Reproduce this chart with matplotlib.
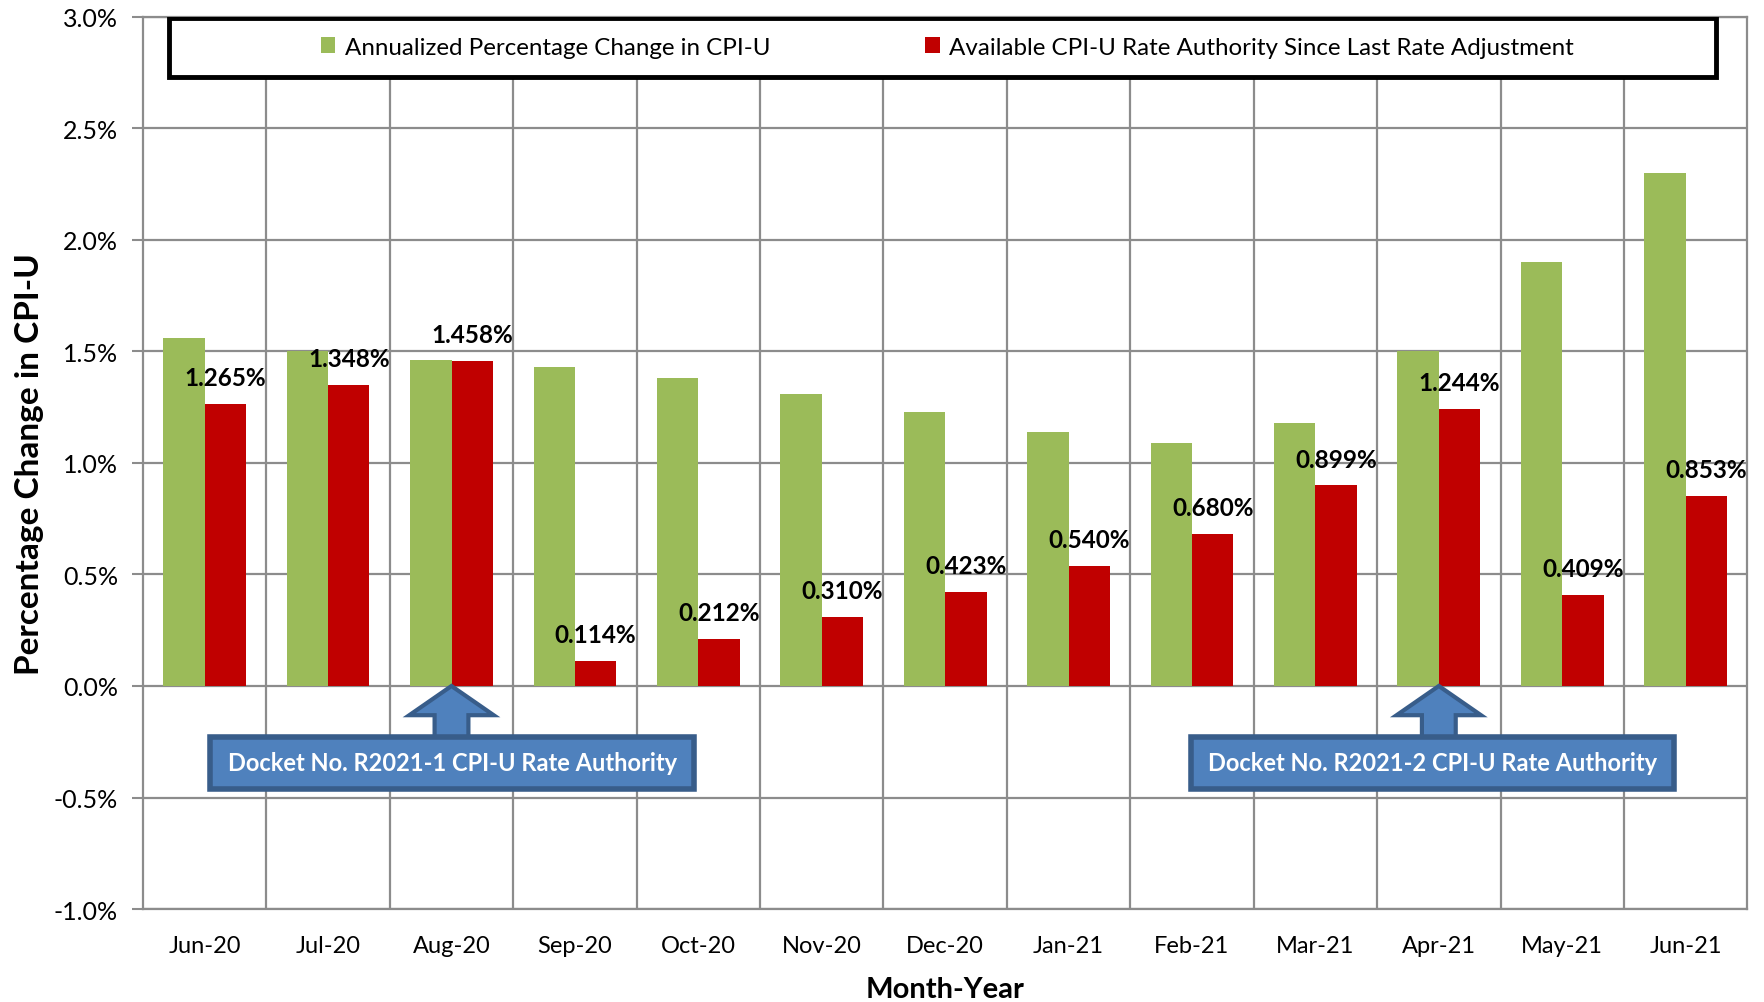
import numpy as np
import matplotlib
matplotlib.use("Agg")
import matplotlib.pyplot as plt
from matplotlib.patches import Rectangle, Polygon
from matplotlib.ticker import FuncFormatter

plt.rcParams['font.family'] = ['Lato', 'DejaVu Sans']

months = ["Jun-20", "Jul-20", "Aug-20", "Sep-20", "Oct-20", "Nov-20", "Dec-20",
          "Jan-21", "Feb-21", "Mar-21", "Apr-21", "May-21", "Jun-21"]
cpi_change = [1.56, 1.50, 1.46, 1.43, 1.38, 1.31, 1.23, 1.14, 1.09, 1.18, 1.50, 1.90, 2.30]
authority = [1.265, 1.348, 1.458, 0.114, 0.212, 0.310, 0.423, 0.540, 0.680, 0.899, 1.244, 0.409, 0.853]
dockets = ["Docket No. R2021-1 CPI-U Rate Authority", "Docket No. R2021-2 CPI-U Rate Authority"]
docket_month = ["Aug-20", "Apr-21"]

green = "#9BBB59"
red = "#C00000"
grid_c = "#8C8C8C"
box_fill = "#4F81BD"
box_edge = "#385D8A"

fig = plt.figure(figsize=(17.65, 10.03), dpi=100)
ax = fig.add_axes([0.081, 0.0927, 0.909, 0.8895])

x = np.arange(len(months))
w = 0.335
ax.bar(x - w / 2, cpi_change, w, color=green, zorder=3,
       label="Annualized Percentage Change in CPI-U")
ax.bar(x + w / 2, authority, w, color=red, zorder=3,
       label="Available CPI-U Rate Authority Since Last Rate Adjustment")

for xi, v in zip(x, authority):
    ax.annotate("%.3f%%" % v, (xi + w / 2, v), xytext=(0, 19), textcoords="offset points",
                ha="center", va="center", fontsize=17.5, fontweight="bold", zorder=5)

ax.set_xlim(-0.5, len(months) - 0.5)
ax.set_ylim(-1.0, 3.0)
ax.set_yticks(np.arange(-1.0, 3.01, 0.5))
ax.yaxis.set_major_formatter(FuncFormatter(lambda v, p: "%.1f%%" % v))
ax.set_xticks(x)
ax.set_xticklabels(months)
ax.tick_params(axis="x", length=0, pad=19, labelsize=17)
ax.tick_params(axis="y", length=8, width=1.5, color=grid_c, pad=10, labelsize=18)

ax.yaxis.grid(True, color=grid_c, lw=1.6, zorder=0)
for b in np.arange(0.5, len(months) - 1, 1.0):
    ax.axvline(b, color=grid_c, lw=1.6, zorder=0)
for s in ax.spines.values():
    s.set_color(grid_c)
    s.set_linewidth(1.6)

ax.set_ylabel("Percentage Change in CPI-U", fontsize=24, fontweight="bold", labelpad=7)
ax.set_xlabel("Month-Year", fontsize=21, fontweight="bold", labelpad=14)

# legend box
ax.add_patch(Rectangle((0.0162, 0.9325), 0.9643, 0.0665, transform=ax.transAxes,
                       facecolor="white", edgecolor="black", lw=3.5, zorder=6))
ax.legend(loc="center", bbox_to_anchor=(0.5015, 0.966), ncol=2, frameon=False,
          fontsize=17.4, handlelength=0.6, handleheight=0.6, handletextpad=0.4,
          columnspacing=6.4).set_zorder(7)

# docket call-outs
box_x = [0.047, 7.99]
box_w = 3.917
for name, m, bx in zip(dockets, docket_month, box_x):
    cx = months.index(m)
    head = [(cx, 0.0), (cx + 0.342, -0.131), (cx + 0.137, -0.131), (cx + 0.137, -0.23),
            (cx - 0.137, -0.23), (cx - 0.137, -0.131), (cx - 0.342, -0.131)]
    ax.add_patch(Polygon(head, closed=True, facecolor=box_fill, edgecolor=box_edge,
                         lw=3, zorder=6))
    ax.add_patch(Rectangle((bx, -0.46), box_w, 0.233, facecolor=box_fill,
                           edgecolor=box_edge, lw=4, zorder=7))
    ax.text(bx + box_w / 2, -0.3435, name, ha="center", va="center", color="white",
            fontsize=17, fontweight="bold", zorder=8)

fig.savefig("out.png", dpi=100)
